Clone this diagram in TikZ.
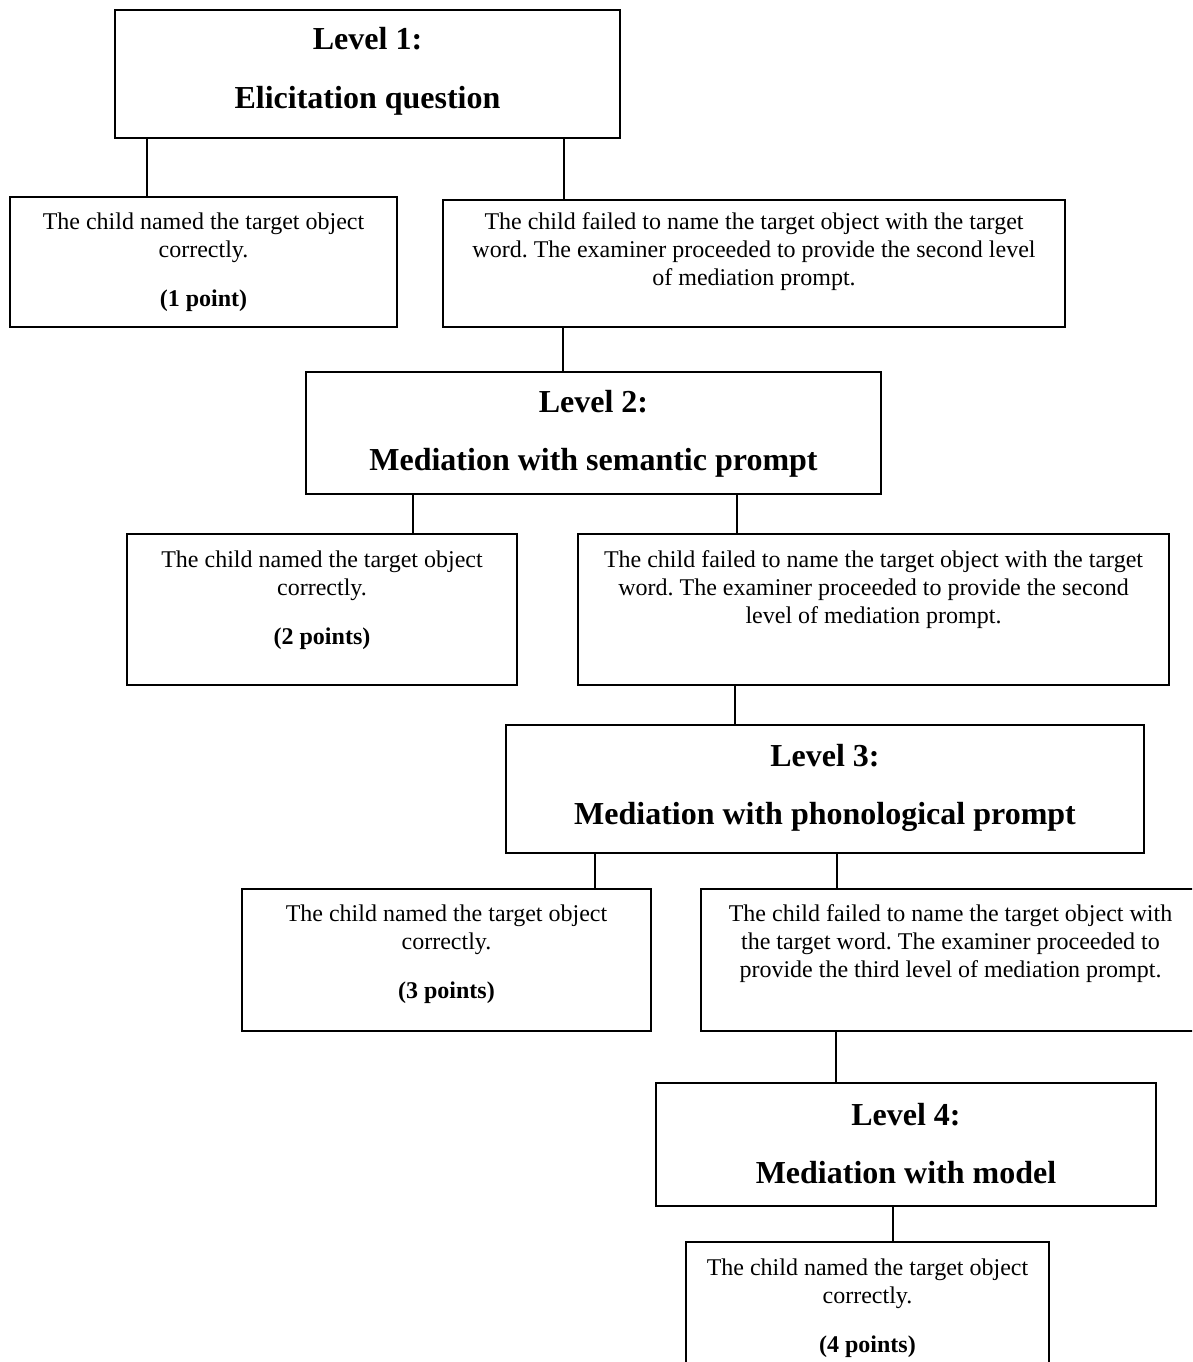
\documentclass[tikz,border=0pt]{standalone}
\usepackage{fontspec}
\setmainfont{Liberation Serif}
\frenchspacing

% top-aligned cell: width, height, first-baseline depth, content
\newcommand{\cellbox}[4]{\parbox[t][#2][t]{#1}{\centering\rule{0pt}{#3}#4}}

\begin{document}
\begin{tikzpicture}[x=1pt,y=-1pt,
  head/.style={draw, line width=2.8pt, inner sep=0pt, outer sep=0pt, anchor=north west,
    font=\fontsize{32}{36.8}\selectfont\bfseries},
  resp/.style={draw, line width=1.2pt, inner sep=0pt, outer sep=0pt, anchor=north west,
    font=\fontsize{24}{28}\selectfont},
  link/.style={line width=2pt}]
\useasboundingbox (0,0) rectangle (1192,1362);
\clip (0,0) rectangle (1192,1362);

% level 1
\node[head] (L1) at (115,10) {\cellbox{505pt}{128pt}{40pt}{Level 1:\\[22pt]Elicitation question}};
\node[resp] (A1) at (10,197) {\cellbox{387pt}{130pt}{32pt}{The child named the target object\\correctly.\\[21pt]\textbf{(1 point)}}};
\node[resp] (B1) at (443,200) {\cellbox{622pt}{127pt}{29pt}{The child failed to name the target object with the target\\word. The examiner proceeded to provide the second level\\of mediation prompt.}};

% level 2
\node[head] (L2) at (306,372) {\cellbox{575pt}{122pt}{40pt}{Level 2:\\[22pt]Mediation with semantic prompt}};
\node[resp] (A2) at (127,534) {\cellbox{390pt}{151pt}{33pt}{The child named the target object\\correctly.\\[21pt]\textbf{(2 points)}}};
\node[resp] (B2) at (578,534) {\cellbox{591pt}{151pt}{33pt}{The child failed to name the target object with the target\\word. The examiner proceeded to provide the second\\level of mediation prompt.}};

% level 3
\node[head] (L3) at (506,725) {\cellbox{638pt}{128pt}{41pt}{Level 3:\\[22pt]Mediation with phonological prompt}};
\node[resp] (A3) at (242,889) {\cellbox{409pt}{142pt}{32pt}{The child named the target object\\correctly.\\[21pt]\textbf{(3 points)}}};
\node[resp] (B3) at (701,889) {\cellbox{499pt}{142pt}{32pt}{The child failed to name the target object with\\the target word. The examiner proceeded to\\provide the third level of mediation prompt.}};

% level 4
\node[head] (L4) at (656,1083) {\cellbox{500pt}{123pt}{42pt}{Level 4:\\[22pt]Mediation with model}};
\node[resp] (A4) at (686,1242) {\cellbox{363pt}{160pt}{33pt}{The child named the target object\\correctly.\\[21pt]\textbf{(4 points)}}};

% connector columns
\coordinate (c1) at (147,0);
\coordinate (c2) at (564,0);
\coordinate (c3) at (563,0);
\coordinate (c4) at (413,0);
\coordinate (c5) at (737,0);
\coordinate (c6) at (735,0);
\coordinate (c7) at (595,0);
\coordinate (c8) at (837,0);
\coordinate (c9) at (836,0);
\coordinate (c10) at (893,0);

\draw[link] (L1.south -| c1) -- (A1.north -| c1);
\draw[link] (L1.south -| c2) -- (B1.north -| c2);
\draw[link] (B1.south -| c3) -- (L2.north -| c3);
\draw[link] (L2.south -| c4) -- (A2.north -| c4);
\draw[link] (L2.south -| c5) -- (B2.north -| c5);
\draw[link] (B2.south -| c6) -- (L3.north -| c6);
\draw[link] (L3.south -| c7) -- (A3.north -| c7);
\draw[link] (L3.south -| c8) -- (B3.north -| c8);
\draw[link] (B3.south -| c9) -- (L4.north -| c9);
\draw[link] (L4.south -| c10) -- (A4.north -| c10);
\end{tikzpicture}
\end{document}
